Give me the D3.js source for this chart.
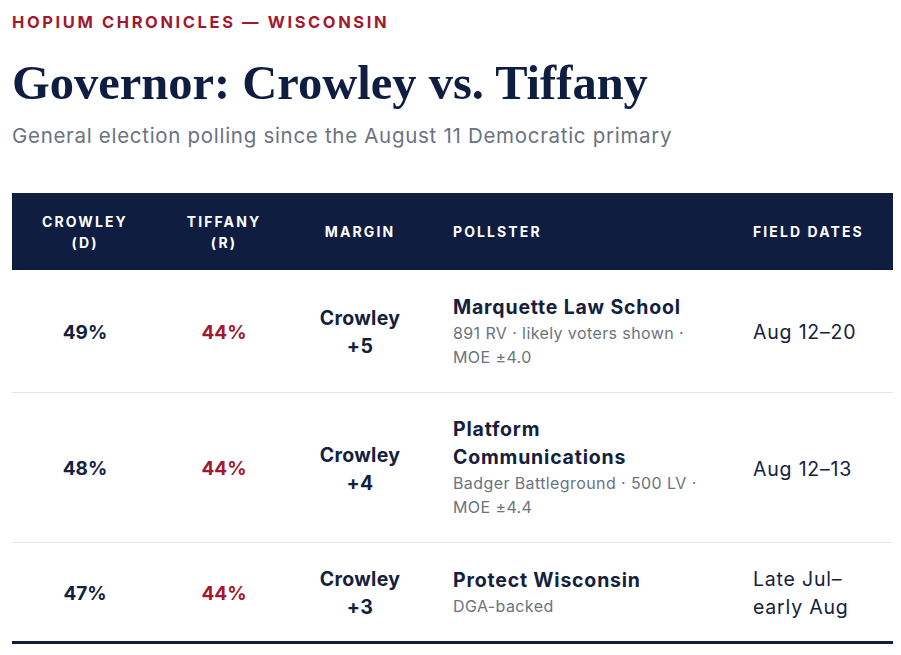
<!DOCTYPE html>
<html>
<head>
<meta charset="utf-8">
<script src="https://cdn.jsdelivr.net/npm/d3@7"></script>
<style>
  html, body { margin: 0; padding: 0; background: #ffffff; }
  body { width: 901px; height: 655px; overflow: hidden; font-family: Inter, "Noto Sans", sans-serif; color: #14213d; }
  #wrap { position: relative; padding: 0 8px 0 12px; }
  .kicker { position: absolute; left: 12px; top: 12px; line-height: 20px; font-size: 16.5px; font-weight: 700; letter-spacing: 2.6px; color: #a3182f; white-space: nowrap; }
  .title { position: absolute; left: 12px; top: 53px; line-height: 60px; font-family: "Liberation Serif", "DejaVu Serif", serif; font-weight: 700; font-size: 48.5px; color: #0f1d40; white-space: nowrap; }
  .sub { position: absolute; left: 12px; top: 122px; line-height: 28px; font-size: 20.5px; letter-spacing: 0.7px; color: #6b7280; white-space: nowrap; }
  table { position: absolute; left: 12px; top: 193px; width: 881px; border-collapse: collapse; table-layout: fixed; }
  th { background: #0f1d40; color: #ffffff; font-size: 14px; font-weight: 700; letter-spacing: 2.1px; line-height: 21px; height: 77px; padding: 0 0; vertical-align: middle; }
  td { vertical-align: middle; padding: 0; border-bottom: 1px solid #e5e7eb; }
  tr.last td { border-bottom: 3px solid #0f1d40; }
  .num { text-align: center; font-size: 19px; font-weight: 700; padding-top: 3px; }
  .dem { color: #14213d; }
  .rep { color: #a3182f; }
  .margin { text-align: center; font-size: 19.5px; font-weight: 700; line-height: 28px; letter-spacing: 0.3px; color: #14213d; padding-top: 3px; }
  .poll { padding: 0 0 0 23px; }
  .pname { font-size: 19.5px; font-weight: 700; line-height: 28px; letter-spacing: 0.8px; color: #14213d; }
  .pdet { font-size: 16px; line-height: 23px; letter-spacing: 0.4px; color: #6b7280; padding-top: 1px; }
  .dates { padding-left: 22px; font-size: 19.5px; line-height: 28px; letter-spacing: 0.8px; color: #14213d; padding-top: 3px; }
</style>
</head>
<body>
<div id="wrap"></div>
<script>
const kicker = "HOPIUM CHRONICLES — WISCONSIN";
const title = "Governor: Crowley vs. Tiffany";
const subtitle = "General election polling since the August 11 Democratic primary";

const headers = [["CROWLEY", "(D)"], ["TIFFANY", "(R)"], ["MARGIN"], ["POLLSTER"], ["FIELD DATES"]];
const crowley = [49, 48, 47];
const tiffany = [44, 44, 44];
const pollsterLines = [["Marquette Law School"], ["Platform", "Communications"], ["Protect Wisconsin"]];
const detailLines = [["891 RV · likely voters shown ·", "MOE ±4.0"], ["Badger Battleground · 500 LV ·", "MOE ±4.4"], ["DGA-backed"]];
const dateLines = [["Aug 12–20"], ["Aug 12–13"], ["Late Jul–", "early Aug"]];
const rowHeights = [122, 150, 100];

const colWidths = [146, 132, 140, 301, 162];

const wrap = d3.select("#wrap");
wrap.append("div").attr("class", "kicker").text(kicker);
wrap.append("div").attr("class", "title").text(title);
wrap.append("div").attr("class", "sub").text(subtitle);

const table = wrap.append("table");
table.append("colgroup").selectAll("col").data(colWidths).join("col").style("width", d => d + "px");

const hr = table.append("thead").append("tr");
hr.selectAll("th").data(headers).join("th")
  .style("text-align", (d, i) => i < 3 ? "center" : "left")
  .style("padding-left", (d, i) => i === 3 ? "23px" : (i === 4 ? "22px" : "0px"))
  .each(function (d) {
    const th = d3.select(this);
    d.forEach(line => th.append("div").text(line));
  });

const rows = crowley.map((c, i) => ({
  c, t: tiffany[i], name: pollsterLines[i], det: detailLines[i], dates: dateLines[i], h: rowHeights[i]
}));

const tr = table.append("tbody").selectAll("tr").data(rows).join("tr")
  .attr("class", (d, i) => i === rows.length - 1 ? "last" : null)
  .style("height", d => d.h + "px");

tr.append("td").attr("class", "num dem").text(d => d.c + "%");
tr.append("td").attr("class", "num rep").text(d => d.t + "%");
tr.append("td").attr("class", "margin").each(function (d) {
  const m = d.c - d.t;
  const leader = m >= 0 ? "Crowley" : "Tiffany";
  const cell = d3.select(this);
  cell.append("div").text(leader);
  cell.append("div").text("+" + Math.abs(m));
});
tr.append("td").attr("class", "poll").each(function (d) {
  const cell = d3.select(this);
  d.name.forEach(l => cell.append("div").attr("class", "pname").text(l));
  d.det.forEach(l => cell.append("div").attr("class", "pdet").text(l));
});
tr.append("td").attr("class", "dates").each(function (d) {
  const cell = d3.select(this);
  d.dates.forEach(l => cell.append("div").text(l));
});
</script>
</body>
</html>
